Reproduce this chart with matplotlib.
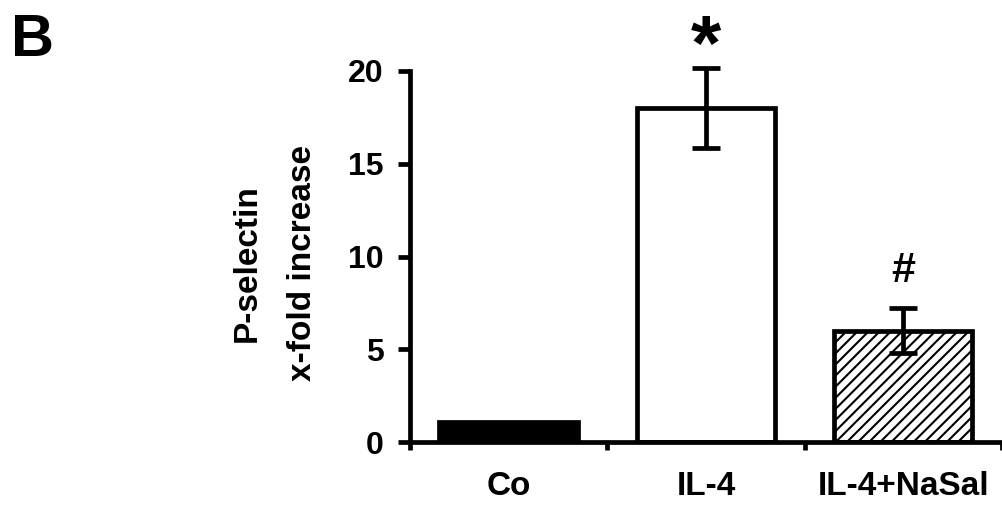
import numpy as np
import matplotlib
matplotlib.use("Agg")
import matplotlib.pyplot as plt

# data
groups = ["Co", "IL-4", "IL-4+NaSal"]
values = [1.1, 18.0, 6.0]
errors = [0.0, 2.15, 1.2]
marks = ["", "*", "#"]
mark_y = [0, 21.15, 9.2]
y_ticks = [0, 5, 10, 15, 20]

plt.rcParams['font.family'] = ['Liberation Sans', 'DejaVu Sans']
plt.rcParams['font.weight'] = 'bold'
plt.rcParams['hatch.linewidth'] = 1.5

fig = plt.figure(figsize=(10.02, 5.07), dpi=100)
ax = fig.add_axes([0.409, 0.128, 0.591, 0.732])

x = np.arange(len(groups))
fills = ['black', 'white', 'white']
hatches = [None, None, '///']
lw = 3.4
for i in range(len(groups)):
    ax.bar(x[i], values[i], width=0.7, color=fills[i], edgecolor='black',
           linewidth=lw, hatch=hatches[i], zorder=2)
    if errors[i] > 0:
        eb = ax.errorbar(x[i], values[i], yerr=errors[i], fmt='none', ecolor='black',
                         elinewidth=lw, capsize=10, capthick=lw, zorder=3)
        for art in eb.lines[1] + eb.lines[2]:
            art.set_clip_on(False)
        ax.text(x[i], mark_y[i], marks[i], ha='center', va='center',
                fontsize=56 if marks[i] == '*' else 31, fontweight='bold')

ax.set_xlim(-0.5, 2.5)
ax.set_ylim(0, 20)
ax.set_yticks(y_ticks)
ax.set_yticklabels([str(t) for t in y_ticks], fontsize=23, fontweight='bold')
ax.set_xticks(x)
ax.set_xticklabels(groups, fontsize=24, fontweight='bold')
ax.set_xticks([-0.5, 0.5, 1.5, 2.5], minor=True)
ax.tick_params(axis='x', which='major', length=0, pad=21)
ax.tick_params(axis='x', which='minor', length=6, width=lw, direction='out')
ax.tick_params(axis='y', length=9, width=lw, direction='out', pad=10)

for s in ['top', 'right']:
    ax.spines[s].set_visible(False)
for s in ['left', 'bottom']:
    ax.spines[s].set_linewidth(lw)
ax.spines['left'].set_bounds(0, 20)

fig.text(0.2465, 0.481, "P-selectin", rotation=90, ha='center', va='center',
         fontsize=24, fontweight='bold')
fig.text(0.302, 0.481, "x-fold increase", rotation=90, ha='center', va='center',
         fontsize=24, fontweight='bold')
fig.text(0.011, 0.975, "B", ha='left', va='top', fontsize=43, fontweight='bold')

fig.savefig("out.png", dpi=100)
